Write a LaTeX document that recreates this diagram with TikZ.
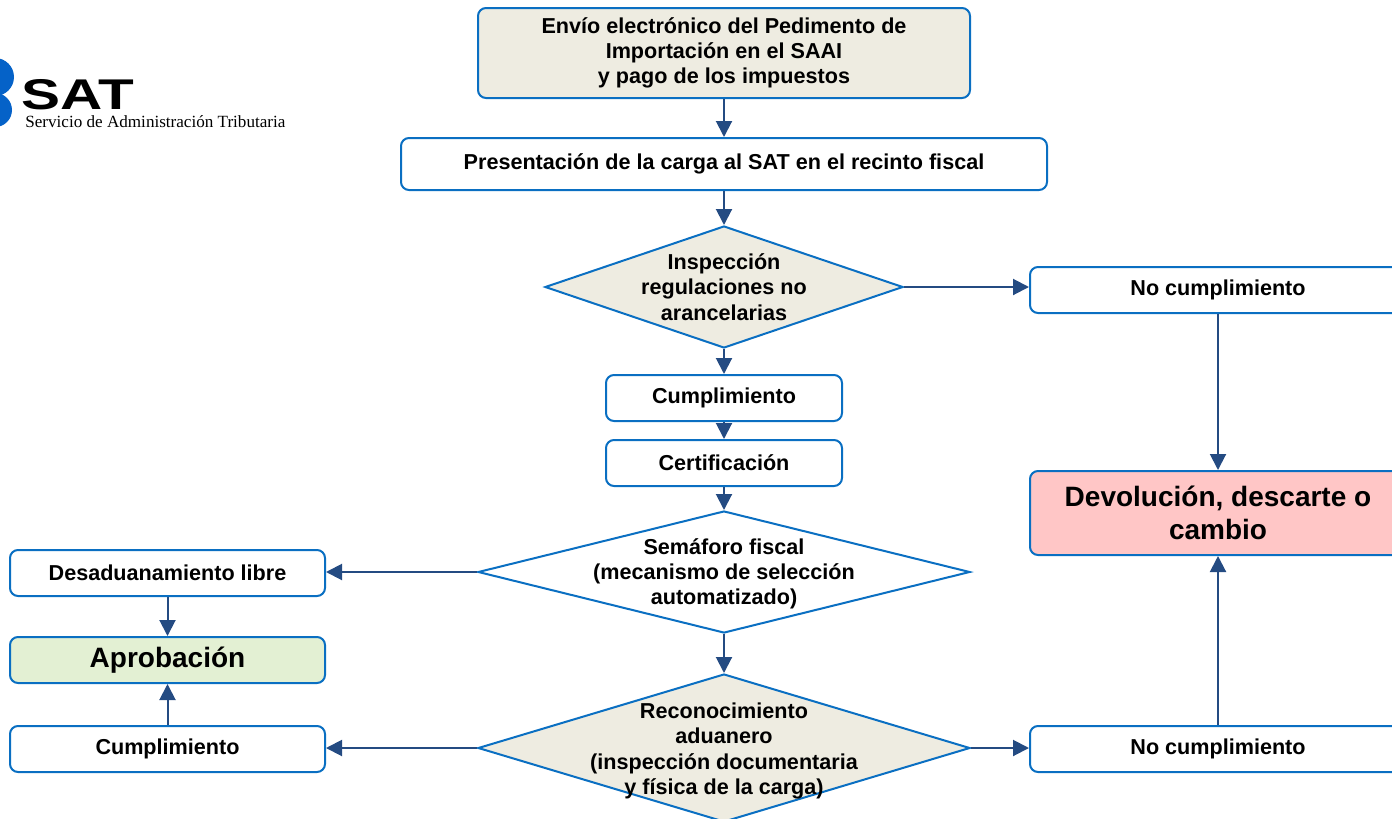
\documentclass[tikz,border=0pt]{standalone}
\usepackage{fontspec}
\setmainfont{Liberation Sans}
\newfontfamily\logoserif{Liberation Serif}
\usetikzlibrary{arrows.meta,shapes.geometric}
\definecolor{satblue}{HTML}{0A6FC2}
\definecolor{arrowblue}{HTML}{244B82}
\definecolor{beige}{HTML}{EEECE1}
\definecolor{okgreen}{HTML}{E3F0D3}
\definecolor{badpink}{HTML}{FFC6C6}
\definecolor{logoblue}{HTML}{0562C8}
\tikzset{
	box/.style={draw=satblue, line width=1pt, rounded corners=4pt, align=center, font=\bfseries\fontsize{10.8}{12.6}\selectfont, inner sep=0pt},
	bigbox/.style={box, font=\bfseries\fontsize{14}{16.5}\selectfont},
	decision/.style={draw=satblue, line width=1pt, diamond, inner sep=0pt},
	dtext/.style={align=center, font=\bfseries\fontsize{10.8}{12.6}\selectfont},
	flow/.style={draw=arrowblue, line width=1pt, -{Triangle[length=8pt,width=8pt]}}
}

\begin{document}
\begin{tikzpicture}[x=0.5pt, y=-0.5pt]
			%%%%% START %%%%%
			\useasboundingbox (0, 0) rectangle (1392, 819);
			
			% logo
			\fill[logoblue] (-5, 77) circle (19);
			\fill[logoblue] (-5, 110) circle (17);
			\node[anchor=south west, inner sep=0pt] (satword) at (21, 110) {\scalebox{1.36}[1]{\bfseries\fontsize{21.5}{21.5}\selectfont SAT}};
			\node[anchor=west, inner sep=0pt] (satname) at (25, 122) {\resizebox{130pt}{!}{\logoserif Servicio de Administración Tributaria}};
			
			% column
			\node[box, fill=beige, minimum width=246pt, minimum height=45pt] (envio) at (724, 53) {Envío electrónico del Pedimento de\\Importación en el SAAI\\y pago de los impuestos};
			\node[box, minimum width=323pt, minimum height=26pt] (carga) at (724, 164) {Presentación de la carga al SAT en el recinto fiscal};
			\node[decision, fill=beige, minimum width=179pt, minimum height=61pt] (rrna) at (724, 287) {};
			\node[dtext] (rrna-t) at (rrna) {Inspección\\regulaciones no\\arancelarias};
			\node[box, minimum width=118pt, minimum height=23pt] (cumpl) at (724, 398) {Cumplimiento};
			\node[box, minimum width=118pt, minimum height=23pt] (cert) at (724, 463) {Certificación};
			\node[decision, fill=white, minimum width=246pt, minimum height=61pt] (semaforo) at (724, 572) {};
			\node[dtext] (semaforo-t) at (724, 574) {Semáforo fiscal\\(mecanismo de selección\\automatizado)};
			\node[decision, fill=beige, minimum width=246pt, minimum height=74pt] (recon) at (724, 748) {};
			\node[dtext] (recon-t) at (724, 751) {Reconocimiento\\aduanero\\(inspección documentaria\\y física de la carga)};
			
			% left side
			\node[box, minimum width=157.5pt, minimum height=23pt] (libre) at (167.5, 573) {Desaduanamiento libre};
			\node[bigbox, fill=okgreen, minimum width=157.5pt, minimum height=23pt] (aprob) at (167.5, 660) {Aprobación};
			\node[box, minimum width=157.5pt, minimum height=23pt] (cumpl2) at (167.5, 749) {Cumplimiento};
			
			% right side
			\node[box, minimum width=188pt, minimum height=23pt] (nocumpl) at (1218, 290) {No cumplimiento};
			\node[bigbox, fill=badpink, minimum width=188pt, minimum height=42pt] (devol) at (1218, 513) {Devolución, descarte o\\cambio};
			\node[box, minimum width=188pt, minimum height=23pt] (nocumpl2) at (1218, 749) {No cumplimiento};
			
			% arrows
			\draw[flow] (envio) -- (carga);
			\draw[flow] (carga) -- (rrna);
			\draw[flow] (rrna.east) -- (rrna.east -| nocumpl.west);
			\draw[flow] (rrna) -- (cumpl);
			\draw[flow] (cumpl) -- (cert);
			\draw[flow] (cert) -- (semaforo);
			\draw[flow] (semaforo.west) -- (semaforo.west -| libre.east);
			\draw[flow] (libre) -- (aprob);
			\draw[flow] (semaforo) -- (recon);
			\draw[flow] (recon.west) -- (recon.west -| cumpl2.east);
			\draw[flow] (cumpl2) -- (aprob);
			\draw[flow] (recon.east) -- (recon.east -| nocumpl2.west);
			\draw[flow] (nocumpl2) -- (devol);
			\draw[flow] (nocumpl) -- (devol);
			
			%%%%% END %%%%%
		\end{tikzpicture}
\end{document}
